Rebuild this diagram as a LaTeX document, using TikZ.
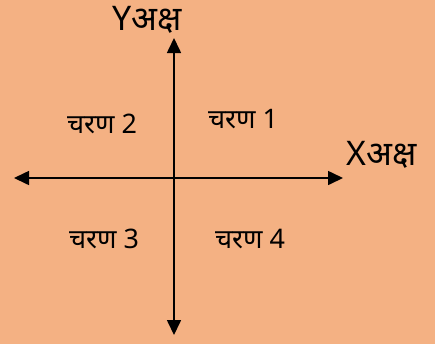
\documentclass[tikz,border=0pt]{standalone}
\usepackage{fontspec}
\setmainfont[Script=Devanagari]{Noto Sans}
\usetikzlibrary{arrows.meta}
\definecolor{bg}{HTML}{F4B183}
\tikzset{
  axis/.style={line width=1.6pt,-{Triangle[length=15bp,width=14bp]}},
  quad/.style={font=\fontsize{27}{31}\selectfont, inner sep=0pt},
  axlabel/.style={font=\fontsize{34}{38}\selectfont, inner sep=0pt}
}
\begin{document}
\begin{tikzpicture}[x=1bp,y=-1bp]
\fill[bg] (0,0) rectangle (435,344);
\useasboundingbox (0,0) rectangle (435,344);
\coordinate (o) at (174,178);
\coordinate (top) at (174,38);
\coordinate (bottom) at (174,335);
\coordinate (left) at (14,178);
\coordinate (right) at (343,178);
\draw[axis] (o) -- (top);
\draw[axis] (o) -- (bottom);
\draw[axis] (o) -- (left);
\draw[axis] (o) -- (right);
\node[axlabel] (ylab) at (147,20) {Yअक्ष};
\node[axlabel] (xlab) at (382,155) {Xअक्ष};
\node[quad] (q1) at (243,119) {चरण 1};
\node[quad] (q2) at (102,124) {चरण 2};
\node[quad] (q3) at (104,239) {चरण 3};
\node[quad] (q4) at (250,239) {चरण 4};
\end{tikzpicture}
\end{document}
